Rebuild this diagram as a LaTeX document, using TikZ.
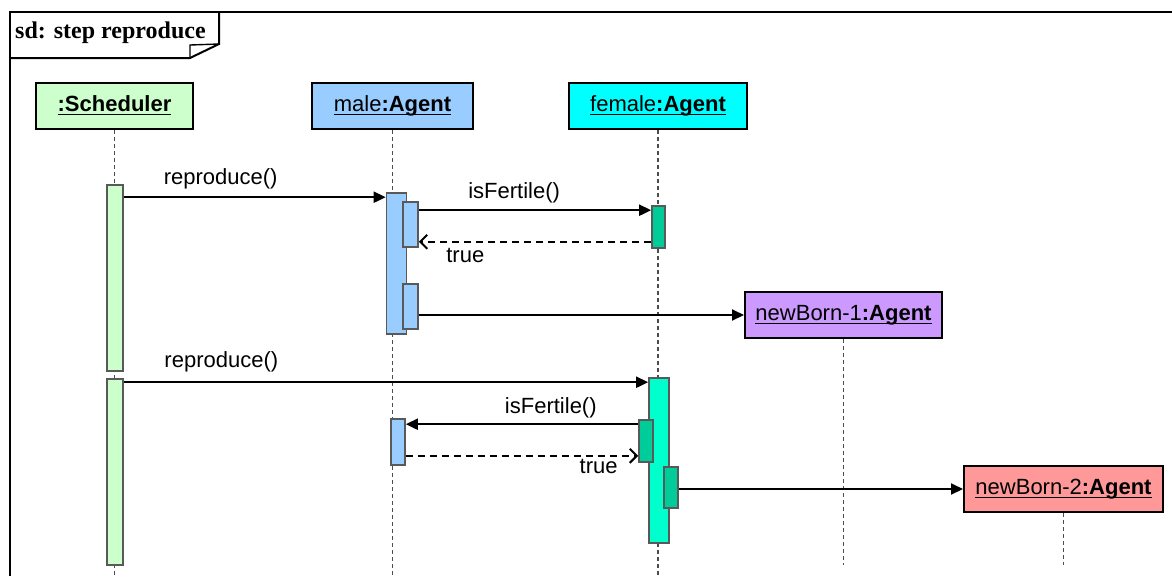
\documentclass[tikz,border=0pt]{standalone}
\usepackage{amsmath}
\usepackage{fontspec}
\setmainfont{Liberation Sans}
\newfontfamily\titlefont{Liberation Serif}
\usetikzlibrary{arrows.meta}

\definecolor{schgreen}{HTML}{CCFFCC}
\definecolor{maleblue}{HTML}{99CCFF}
\definecolor{femcyan}{HTML}{00FFFF}
\definecolor{femgreen}{HTML}{00CC99}
\definecolor{femaqua}{HTML}{00FFCC}
\definecolor{bornlilac}{HTML}{CC99FF}
\definecolor{bornred}{HTML}{FF9999}

\newcommand{\objname}[2]{\underline{\smash[b]{#1\textbf{:#2}}}}

\begin{document}
\begin{tikzpicture}[x=1pt, y=-1pt, font=\fontsize{22}{26}\selectfont,
    obj/.style = {draw, line width=2pt, minimum height=46pt, inner sep=0pt},
    act/.style 2 args = {draw=black!65, line width=1.6pt, inner sep=0pt, minimum width=#1pt, minimum height=#2pt},
    life/.style = {black!70, line width=1.6pt, dash pattern=on 4pt off 3pt},
    msg/.style = {-{Triangle[length=12pt,width=11pt]}, line width=2pt},
    ret/.style = {-{Straight Barb[length=7pt,width=14pt]}, line width=2pt, dash pattern=on 7pt off 5pt},
    lbl/.style = {inner sep=1pt}]
    \useasboundingbox (0,0) rectangle (1172,576);

    % frame
    \draw[line width=2pt] (1172,12) -- (10,12) -- (10,576);
    \draw[line width=2pt] (10,58) -- (190,58) -- (219,44) -- (219,12);
    \draw[line width=1.4pt] (190,58) -- (190,45) -- (219,44);
    \node[anchor=base west, inner sep=0pt, font=\titlefont\bfseries\fontsize{24}{28}\selectfont] (title) at (15,38) {sd: step reproduce};

    % objects
    \node[obj, fill=schgreen, minimum width=157pt] (sch) at (114.5,106) {\underline{\smash[b]{\textbf{:Scheduler}}}};
    \node[obj, fill=maleblue, minimum width=161pt] (male) at (392.5,106) {\objname{male}{Agent}};
    \node[obj, fill=femcyan, minimum width=178pt] (fem) at (658,106) {\objname{female}{Agent}};
    \node[obj, fill=bornlilac, minimum width=197pt] (nb1) at (843.5,315) {\objname{newBorn-1}{Agent}};
    \node[obj, fill=bornred, minimum width=199pt] (nb2) at (1063.5,489) {\objname{newBorn-2}{Agent}};

    % lifelines
    \foreach \o/\e in {sch/576, male/576, fem/576, nb1/565, nb2/565}
        \draw[life] (\o.south) -- (\o.south |- 0,\e);

    % activations
    \node[act={16}{186}, fill=schgreen] (sch1) at (115,278) {};
    \node[act={16}{186}, fill=schgreen] (sch2) at (115,472) {};
    \node[act={20}{141}, fill=maleblue] (ma1) at (396.5,263.5) {};
    \node[act={15}{45}, fill=maleblue] (ma2) at (410.5,224.5) {};
    \node[act={15}{45}, fill=maleblue] (ma3) at (410.5,306.5) {};
    \node[act={14}{46}, fill=maleblue] (ma4) at (398,442) {};
    \node[act={13}{42}, fill=femgreen] (fa1) at (658.5,227) {};
    \node[act={20}{165}, fill=femaqua] (fa2) at (659,460.5) {};
    \node[act={14}{42}, fill=femgreen] (fa3) at (646,441) {};
    \node[act={14}{41}, fill=femgreen] (fa4) at (671,487.5) {};

    % messages
    \draw[msg] ([yshift=-13pt]sch1.north east) -- node[lbl, pos=0.37, above=6pt] {reproduce()} ([yshift=-5pt]ma1.north west);
    \draw[msg] ([yshift=-9pt]ma2.north east) -- node[lbl, pos=0.41, above=5pt] {isFertile()} ([yshift=-5pt]fa1.north west);
    \draw[ret] ([yshift=7pt]fa1.south west) -- node[lbl, pos=0.80, below=4.5pt] {true} ([yshift=6pt]ma2.south east);
    \draw[msg] (ma3.east |- nb1.west) -- (nb1.west);
    \draw[msg] ([yshift=-4pt]sch2.north east) -- node[lbl, pos=0.186, above=8pt] {reproduce()} ([yshift=-5pt]fa2.north west);
    \draw[msg] ([yshift=-5pt]fa3.north west) -- node[lbl, pos=0.376, above=4.5pt] {isFertile()} ([yshift=-6pt]ma4.north east);
    \draw[ret] ([yshift=10pt]ma4.south east) -- node[lbl, pos=0.83, below=1.5pt] {true} ([yshift=7pt]fa3.south west);
    \draw[msg] (fa4.east |- nb2.west) -- (nb2.west);
\end{tikzpicture}
\end{document}
